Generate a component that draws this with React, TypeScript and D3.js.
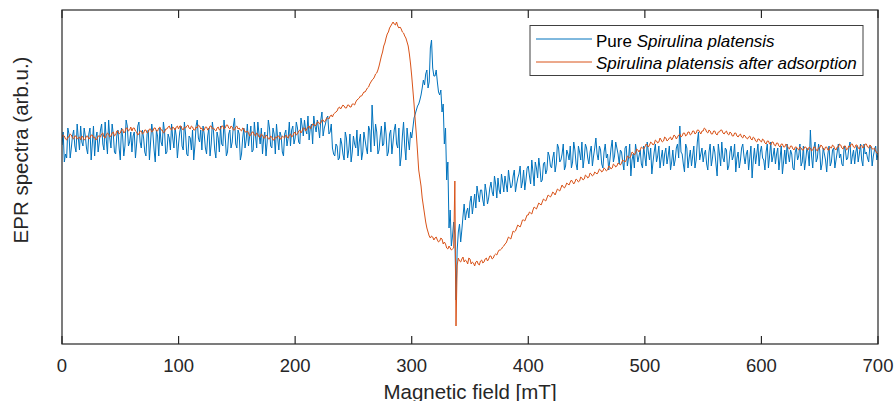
import React from "react";
import * as d3 from "d3";

// Magnetic field grid (mT): even samples 0,2,...,700 and odd samples 1,3,...,699
const fieldStart = 0;
const fieldEnd = 700;

// Pure Spirulina platensis (arb.u.) at even fields, rows of 10 = 20 mT each
const pureEven: number[] = [
  -5, -22, -18, 6, -8, 10, -12, 2, 14, -6,
  4, -14, 12, -4, -16, 8, -2, 16, -10, 0,
  20, -8, 6, -14, 10, -20, 4, -6, 14, -2,
  -12, 8, -4, 18, -8, 2, -16, 10, -2, 6,
  -22, 4, 12, -6, 8, -12, 2, 16, -8, 4,
  -4, 14, -10, 6, -16, 2, 10, -6, 20, -2,
  -10, 6, -14, 12, -4, 8, -18, 2, 14, -6,
  4, -12, 10, -2, 22, -8, 6, -14, 12, 0,
  -6, 14, -10, 4, 18, -4, -14, 8, -2, 12,
  -8, 6, 16, -10, 4, -16, 10, 2, -6, 14,
  2, 12, -4, 14, 20, 6, 0, 16, 24, 8,
  12, 20, 4, 16, 24, 8, -8, -16, -6, -18,
  -4, -20, 2, -10, -22, 4, -8, -16, 6, -12,
  0, -14, 10, 35, -6, 8, -10, 14, -4, 6,
  -12, 10, -2, 16, -8, -26, 4, -6, 12, -10,
  2, 22, 30, 36, 45, 60, 66, 52, 92, 72,
  64, 58, 45, 28, -4, -40, -88, -106, -82, -160,
  -92, -102, -76, -80, -68, -62, -74, -54, -46, -62,
  -50, -66, -52, -58, -42, -56, -44, -38, -54, -42,
  -36, -52, -40, -46, -30, -44, -34, -48, -30, -40,
  -26, -44, -32, -22, -38, -28, -40, -22, -30, -16,
  -28, -12, -24, -8, -20, -4, -26, -14, -6, -22,
  -10, -30, -12, -2, -18, -8, -24, -6, -16, 2,
  -20, -10, -28, -4, -14, -20, 0, -16, -8, -24,
  -12, -30, -6, -18, -36, -14, -4, -22, -10, -28,
  -16, -2, -20, -34, -12, -22, -6, -18, -26, -8,
  -16, -30, -10, -20, -4, 14, -14, -32, -8, -18,
  -26, -6, -20, 8, -14, -22, -10, -30, -4, -18,
  -12, -36, -14, -2, -22, -10, -26, -6, -16, -32,
  -12, -20, -4, -24, -10, -18, -38, -8, -14, -26,
  -6, -20, -12, -28, -2, -16, -24, -8, -18, -34,
  -10, -4, -22, -14, -30, -8, -16, -26, -6, -20,
  -12, 10, -28, -2, -18, -10, -24, -14, -32, -6,
  -22, -8, -20, -4, -14, -26, -10, -18, -2, -16,
  -24, -6, -14, -20, -4, -12, -22, -8, -16, -6,
  -14,
];

// Pure Spirulina platensis (arb.u.) at odd fields 1..699
const pureOdd: number[] = [
  8, -14, 12, -18, 4, -6, 16, -10, -2, 12,
  -8, 6, -20, 14, 2, -12, 10, -4, 18, -14,
  2, 16, -12, 4, -8, 12, -16, 20, -6, 8,
  4, -18, 14, -2, 10, -12, 6, -20, 16, -10,
  10, -16, -2, 18, -14, 6, -10, 2, 12, -18,
  8, -6, 18, -14, 4, -10, -20, 14, 2, 10,
  14, -8, 4, -16, 18, -10, 8, -12, -4, 20,
  -16, 6, -8, 14, -4, 10, -20, 2, -8, 16,
  4, -12, 18, -8, 6, 12, 2, -16, 20, -6,
  12, -14, 2, 8, -12, 6, -6, 18, 10, -4,
  18, -2, 22, 4, 10, 24, 12, -4, 14, 20,
  2, 28, 12, 22, 6, 16, -14, -4, -20, 2,
  -14, 8, -18, 6, -12, -4, 10, -2, -20, 8,
  -8, 14, -12, 12, 16, -14, 4, -6, 18, -16,
  6, -14, 10, -4, 12, -16, 18, -20, 0, 8,
  12, 26, 34, 40, 52, 55, 70, 58, 100, 64,
  70, 48, 50, 36, 12, -22, -70, -96, -95, -110,
  -84, -90, -64, -72, -78, -56, -64, -68, -54, -50,
  -60, -44, -64, -48, -52, -36, -58, -50, -34, -52,
  -44, -30, -48, -36, -52, -38, -26, -42, -50, -28,
  -36, -20, -46, -28, -18, -42, -24, -34, -12, -26,
  -18, -32, -4, -22, -14, -30, -10, -20, -28, -2,
  -24, -6, -20, -28, -4, -18, -12, -26, -8, -14,
  -6, -24, -12, -18, -30, -8, -22, -2, -14, -10,
  -22, -8, -26, -4, -20, -28, -12, -16, -24, -6,
  -26, -12, -8, -22, -4, -16, -28, -10, -14, -24,
  -6, -22, -26, -8, -18, -12, -24, -4, -28, -10,
  -16, -28, -2, -20, -8, -14, -24, -12, -26, -6,
  -24, -4, -26, -18, -8, -30, -12, -20, -4, -18,
  -28, -8, -16, -14, -30, -6, -20, -24, -4, -12,
  -18, -30, -4, -16, -22, -8, -14, -30, -6, -22,
  -24, -14, -10, -28, -12, -20, -4, -22, -30, -8,
  -26, -16, -8, -22, -4, -30, -8, -20, -14, -26,
  -10, -28, -12, -18, -24, -6, -20, -8, -24, -10,
  -12, -22, -4, -26, -14, -18, -6, -26, -10, -20,
];

// Spirulina platensis after adsorption (arb.u.) at even fields
const adsorbedEven: number[] = [
  2, 4, 0, 3, 5, 1, 4, 2, 0, 3,
  1, 4, 2, 5, 3, 1, 4, 6, 3, 5,
  6, 4, 8, 5, 9, 7, 11, 8, 12, 10,
  9, 12, 8, 6, 9, 7, 10, 8, 11, 9,
  12, 9, 13, 10, 8, 11, 14, 10, 12, 13,
  11, 14, 10, 12, 15, 11, 13, 10, 12, 14,
  12, 10, 13, 11, 14, 12, 9, 13, 11, 14,
  12, 15, 11, 13, 10, 14, 12, 9, 11, 8,
  7, 5, 8, 4, 6, 3, 5, 2, 4, 1,
  3, 0, 2, 4, 1, 3, 5, 2, 6, 4,
  8, 6, 10, 9, 12, 11, 14, 13, 16, 15,
  18, 17, 20, 19, 22, 24, 23, 27, 29, 33,
  33, 34, 32, 35, 33, 36, 38, 41, 44, 46,
  48, 52, 56, 60, 63, 67, 74, 84, 94, 102,
  108, 114, 118, 115, 114, 113, 108, 104, 98, 86,
  64, 36, 5, -30, -46, -66, -82, -92, -98, -97,
  -98, -100, -101, -99, -102, -108, -106, -110, -108, -186,
  -118, -122, -117, -120, -124, -119, -122, -126, -121, -125,
  -120, -122, -118, -119, -116, -118, -114, -112, -110, -107,
  -104, -100, -98, -95, -92, -88, -86, -84, -80, -78,
  -75, -73, -70, -68, -66, -64, -62, -60, -58, -56,
  -55, -53, -52, -50, -48, -47, -46, -44, -42, -42,
  -42, -40, -41, -38, -39, -36, -37, -34, -35, -33,
  -32, -30, -31, -29, -30, -27, -28, -25, -26, -24,
  -23, -21, -20, -17, -16, -13, -13, -10, -10, -8,
  -7, -5, -5, -3, -4, -1, -2, 0, -1, 2,
  0, 3, 2, 4, 3, 6, 4, 7, 5, 8,
  6, 9, 7, 10, 6, 9, 11, 7, 9, 6,
  9, 5, 8, 10, 6, 9, 5, 7, 4, 7,
  3, 6, 2, 4, 1, 4, 0, 2, -2, 1,
  -2, 0, -4, -1, -5, -2, -6, -3, -7, -4,
  -7, -5, -9, -6, -10, -7, -10, -8, -10, -7,
  -10, -8, -10, -7, -11, -8, -6, -10, -7, -10,
  -8, -6, -10, -7, -5, -9, -6, -9, -7, -4,
  -8, -5, -9, -5, -7, -4, -8, -6, -9, -11,
  -14,
];

// Spirulina platensis after adsorption (arb.u.) at odd fields
const adsorbedOdd: number[] = [
  5, 1, 3, 6, 2, 4, 1, 3, 4, 0,
  4, 1, 5, 2, 0, 4, 3, 7, 2, 7,
  3, 7, 4, 9, 6, 10, 7, 12, 9, 13,
  12, 9, 5, 9, 6, 10, 7, 11, 8, 12,
  9, 12, 10, 7, 11, 13, 11, 13, 10, 14,
  14, 11, 13, 14, 12, 14, 10, 13, 15, 11,
  9, 13, 10, 14, 11, 10, 12, 10, 14, 11,
  15, 12, 14, 10, 13, 11, 10, 12, 8, 9,
  4, 8, 5, 7, 3, 6, 2, 5, 1, 4,
  0, 3, 4, 1, 4, 2, 3, 5, 3, 7,
  5, 9, 7, 12, 9, 13, 11, 16, 14, 18,
  16, 20, 18, 22, 21, 25, 26, 28, 32, 31,
  35, 32, 35, 33, 36, 35, 40, 42, 44, 48,
  50, 53, 58, 61, 66, 70, 79, 88, 97, 106,
  112, 116, 116, 118, 112, 111, 107, 102, 94, 76,
  50, 20, -12, -38, -58, -74, -88, -96, -96, -100,
  -97, -102, -98, -104, -104, -109, -108, -109, -41, -125,
  -121, -119, -122, -121, -118, -124, -123, -122, -124, -121,
  -123, -119, -121, -116, -119, -115, -115, -110, -109, -106,
  -103, -97, -99, -91, -91, -85, -87, -80, -81, -75,
  -72, -74, -67, -69, -63, -65, -59, -61, -55, -57,
  -52, -55, -49, -51, -45, -48, -43, -45, -40, -44,
  -39, -42, -37, -40, -35, -38, -33, -36, -32, -34,
  -29, -32, -28, -31, -26, -29, -24, -27, -23, -25,
  -20, -22, -16, -18, -12, -15, -9, -12, -7, -9,
  -4, -7, -2, -5, 0, -3, 2, -2, 3, -1,
  2, 0, 5, 1, 5, 3, 7, 4, 8, 5,
  9, 6, 10, 8, 9, 12, 8, 10, 6, 9,
  6, 8, 10, 7, 8, 6, 8, 4, 7, 4,
  5, 3, 5, 2, 3, 1, 3, -1, 1, -1,
  1, -3, -1, -4, -2, -5, -3, -6, -4, -7,
  -4, -8, -6, -9, -7, -9, -7, -10, -7, -9,
  -7, -11, -7, -10, -8, -5, -9, -7, -10, -7,
  -5, -9, -7, -4, -8, -6, -10, -6, -4, -7,
  -5, -8, -6, -8, -4, -7, -5, -9, -8, -13,
];

const xTicks = [0, 100, 200, 300, 400, 500, 600, 700];
const legendLabels = ["Spirulina platensis", "Spirulina platensis after adsorption"];

const W = 894;
const H = 401;
const M = { left: 62, right: 878, top: 10, bottom: 344 };
const FONT = "'Liberation Sans', Arial, Helvetica, sans-serif";
const AX = "#262626";
const BLUE = "#0072BD";
const ORANGE = "#D95319";

type Pt = { f: number; v: number };

function merge(even: number[], odd: number[]): Pt[] {
  const field = d3.range(fieldStart, fieldEnd + 1, 1);
  return field.map((f) => ({
    f,
    v: f % 2 === 0 ? even[f / 2] : odd[(f - 1) / 2],
  }));
}

export default function App() {
  const pure = merge(pureEven, pureOdd);
  const adsorbed = merge(adsorbedEven, adsorbedOdd);
  const x = d3.scaleLinear().domain([0, 700]).range([M.left, M.right]);
  const y = d3.scaleLinear().domain([-204, 130]).range([M.bottom, M.top]);
  const line = d3
    .line<Pt>()
    .defined((d) => d.v !== undefined)
    .x((d) => x(d.f))
    .y((d) => y(d.v));

  const tickLen = 8;
  return (
    <svg
      width={W}
      height={H}
      style={{ position: "absolute", left: 0, top: 0, background: "#fff" }}
      fontFamily={FONT}
    >
      <rect x={0} y={0} width={W} height={H} fill="#fff" />
      <defs>
        <clipPath id="plotClip">
          <rect x={M.left} y={M.top} width={M.right - M.left} height={M.bottom - M.top} />
        </clipPath>
      </defs>
      <g clipPath="url(#plotClip)">
        <path d={line(pure) || ""} fill="none" stroke={BLUE} strokeWidth={1} />
        <path d={line(adsorbed) || ""} fill="none" stroke={ORANGE} strokeWidth={1} />
      </g>
      <rect
        x={M.left}
        y={M.top}
        width={M.right - M.left}
        height={M.bottom - M.top}
        fill="none"
        stroke={AX}
        strokeWidth={1.2}
      />
      {xTicks.map((t) => (
        <g key={t}>
          <line x1={x(t)} x2={x(t)} y1={M.bottom} y2={M.bottom - tickLen} stroke={AX} strokeWidth={1.2} />
          <line x1={x(t)} x2={x(t)} y1={M.top} y2={M.top + tickLen} stroke={AX} strokeWidth={1.2} />
          <text x={x(t)} y={372} textAnchor="middle" fontSize={18.5} fill={AX}>
            {t}
          </text>
        </g>
      ))}
      <text x={(M.left + M.right) / 2} y={399} textAnchor="middle" fontSize={20.5} fill={AX}>
        Magnetic field [mT]
      </text>
      <text transform={`translate(28,150) rotate(-90)`} textAnchor="middle" fontSize={20.5} fill={AX}>
        EPR spectra (arb.u.)
      </text>
      <rect x={530} y={25.5} width={333} height={50} fill="#fff" stroke="#404040" strokeWidth={1} />
      <line x1={536} x2={592} y1={39} y2={39} stroke={BLUE} strokeWidth={1} />
      <line x1={536} x2={592} y1={62} y2={62} stroke={ORANGE} strokeWidth={1} />
      <text x={596} y={47} fontSize={17} fill="#000">
        Pure <tspan fontStyle="italic">{legendLabels[0]}</tspan>
      </text>
      <text x={596} y={69} fontSize={17} fill="#000" fontStyle="italic">
        {legendLabels[1]}
      </text>
    </svg>
  );
}
